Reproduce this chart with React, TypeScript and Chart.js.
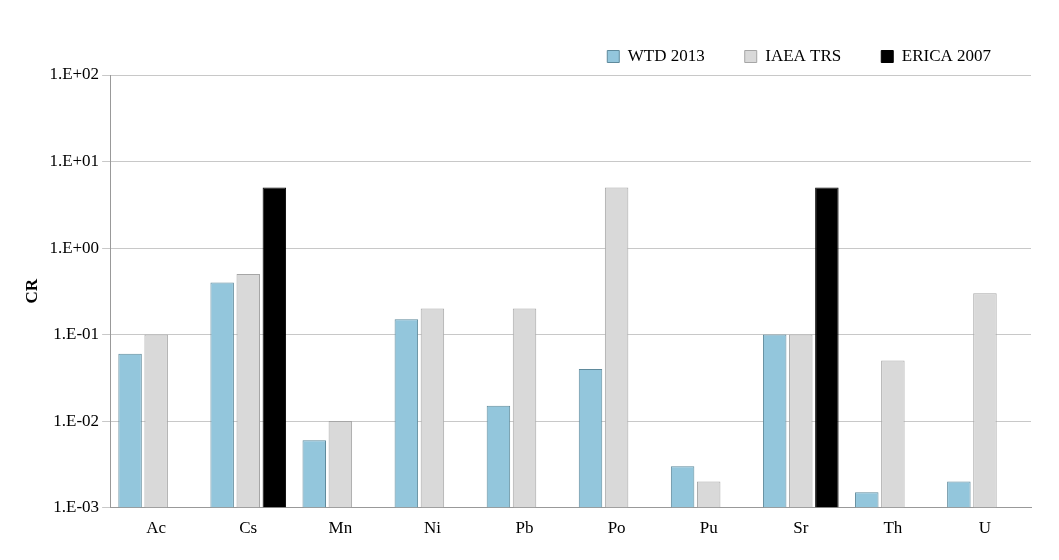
import React, { useEffect, useRef } from 'react';
import { Chart, registerables } from 'chart.js';

Chart.register(...registerables);

const categories = ['Ac', 'Cs', 'Mn', 'Ni', 'Pb', 'Po', 'Pu', 'Sr', 'Th', 'U'];
const wtd2013 = [0.06, 0.4, 0.006, 0.15, 0.015, 0.04, 0.003, 0.1, 0.0015, 0.002];
const iaeaTrs = [0.1, 0.5, 0.01, 0.2, 0.2, 5, 0.002, 0.1, 0.05, 0.3];
const erica2007 = [null, 5, null, null, null, null, null, 5, null, null];
const tickValues = [0.001, 0.01, 0.1, 1, 10, 100];

const fmt = (v: number) => {
  const e = Math.round(Math.log10(v));
  return '1.E' + (e < 0 ? '-' : '+') + String(Math.abs(e)).padStart(2, '0');
};

const App: React.FC = () => {
  const ref = useRef<HTMLCanvasElement | null>(null);

  useEffect(() => {
    if (!ref.current) return;
    const font = { family: '"Liberation Serif", serif', size: 17 };
    const chart = new Chart(ref.current, {
      type: 'bar',
      data: {
        labels: categories,
        datasets: [
          { label: 'WTD 2013', data: wtd2013, backgroundColor: '#93C6DC', borderColor: '#5F8A9C', borderWidth: 1 },
          { label: 'IAEA TRS', data: iaeaTrs, backgroundColor: '#D9D9D9', borderColor: '#A6A6A6', borderWidth: 1 },
          { label: 'ERICA 2007', data: erica2007, backgroundColor: '#000000', borderColor: '#000000', borderWidth: 1 },
        ],
      },
      options: {
        responsive: false,
        animation: false,
        layout: { padding: { left: 10, right: 20, top: 0, bottom: 10 } },
        datasets: { bar: { categoryPercentage: 0.85, barPercentage: 0.9 } },
        plugins: {
          legend: {
            position: 'top',
            align: 'end',
            labels: { font, color: '#000', boxWidth: 12, boxHeight: 12, padding: 40 },
          },
          tooltip: { enabled: false },
        },
        scales: {
          x: {
            grid: { display: false },
            ticks: { font, color: '#000' },
            border: { color: '#999' },
          },
          y: {
            type: 'logarithmic',
            min: 0.001,
            max: 100,
            afterBuildTicks: (axis: any) => {
              axis.ticks = tickValues.map((value) => ({ value }));
            },
            ticks: { font, color: '#000', callback: (v: any) => fmt(Number(v)) },
            grid: { color: '#C8C8C8' },
            border: { color: '#999' },
            title: { display: true, text: 'CR', font: { ...font, weight: 'bold' }, color: '#000' },
          },
        },
      },
    } as any);
    return () => chart.destroy();
  }, []);

  return <canvas ref={ref} width={1043} height={544} />;
};

export default App;
